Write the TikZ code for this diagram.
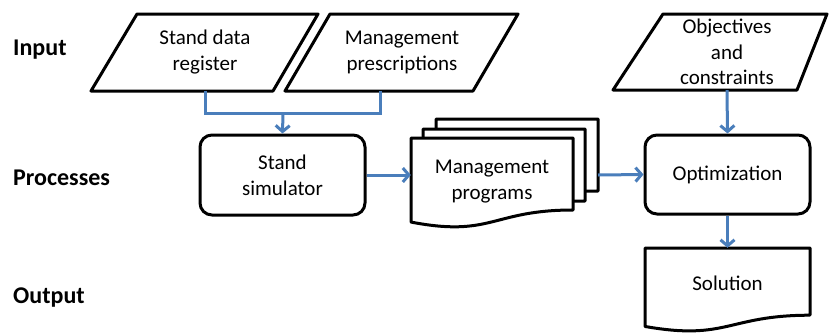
\documentclass[tikz,border=0pt]{standalone}
\usepackage{fontspec}
\setmainfont{Carlito}
\usetikzlibrary{arrows.meta}
\definecolor{flowblue}{RGB}{74,126,187}
\tikzset{
  shapeline/.style={draw=black, line width=3pt, line join=round},
  txt/.style={font=\fontsize{21}{26}\selectfont, align=center, inner sep=0pt},
  lbl/.style={font=\fontsize{24}{29}\selectfont\bfseries, anchor=west, inner sep=0pt},
  procbox/.style={txt, shapeline, rounded corners=12pt},
  flow/.style={draw=flowblue, line width=3pt, -{Straight Barb[length=6pt,width=14pt]}},
  link/.style={draw=flowblue, line width=3pt},
  pics/docshape/.style args={#1/#2}{code={
    \draw[shapeline, fill=white] (0,0.934*#2) -- (0,0) -- (#1,0) -- (#1,0.80*#2)
      .. controls (0.5*#1,0.80*#2) and (0.5*#1,1.107*#2) .. (0,0.934*#2) -- cycle;}}
}
\begin{document}
\begin{tikzpicture}[x=1pt,y=-1pt]
\useasboundingbox (0,0) rectangle (829,332);

% row labels
\node[lbl] (linput) at (13,50) {Input};
\node[lbl] (lproc) at (13,178) {Processes};
\node[lbl] (lout) at (13,298) {Output};

% input parallelograms
\draw[shapeline] (137,14) -- (318,14) -- (273,91) -- (91,91) -- cycle;
\node[txt, minimum width=130pt, minimum height=77pt] (sdr) at (205,52.5) {Stand data\\register};
\draw[shapeline] (330,14) -- (518,14) -- (473,91) -- (285,91) -- cycle;
\node[txt, minimum width=130pt, minimum height=77pt] (mp) at (402,52.5) {Management\\prescriptions};
\draw[shapeline] (663,14) -- (827,14) -- (797,90) -- (613,90) -- cycle;
\node[txt, font=\fontsize{21}{25.5}\selectfont, minimum width=130pt, minimum height=76pt] (obj) at (727,52) {Objectives\\and\\constraints};

% processes
\node[procbox, minimum width=165pt, minimum height=80pt] (sim) at (282.5,175) {Stand\\simulator};
\pic at (436,119) {docshape=162/90};
\pic at (423,129) {docshape=162/90};
\pic at (411,138) {docshape=162/90};
\node[txt, minimum width=162pt, minimum height=70pt] (mprog) at (492,182) {Management\\programs};
\coordinate (mpout) at (598,175);
\node[procbox, minimum width=165pt, minimum height=79pt] (opt) at (727.5,174.5) {Optimization};

% output
\pic at (645,248) {docshape=165/84};
\node[txt, minimum width=165pt, minimum height=70pt] (sol) at (727.5,283) {Solution};

% connectors
\coordinate (jn) at (283,113);
\draw[link] (sdr.south) |- (jn) -| ([xshift=-22pt]mp.south);
\draw[flow] (jn) -- (sim.north);
\draw[flow] (sim.east) -- (sim.east -| mprog.west);
\draw[flow] (mpout) -- (opt.west);
\draw[flow] (obj.south) -- (opt.north);
\draw[flow] (opt.south) -- (sol.north);
\end{tikzpicture}
\end{document}
